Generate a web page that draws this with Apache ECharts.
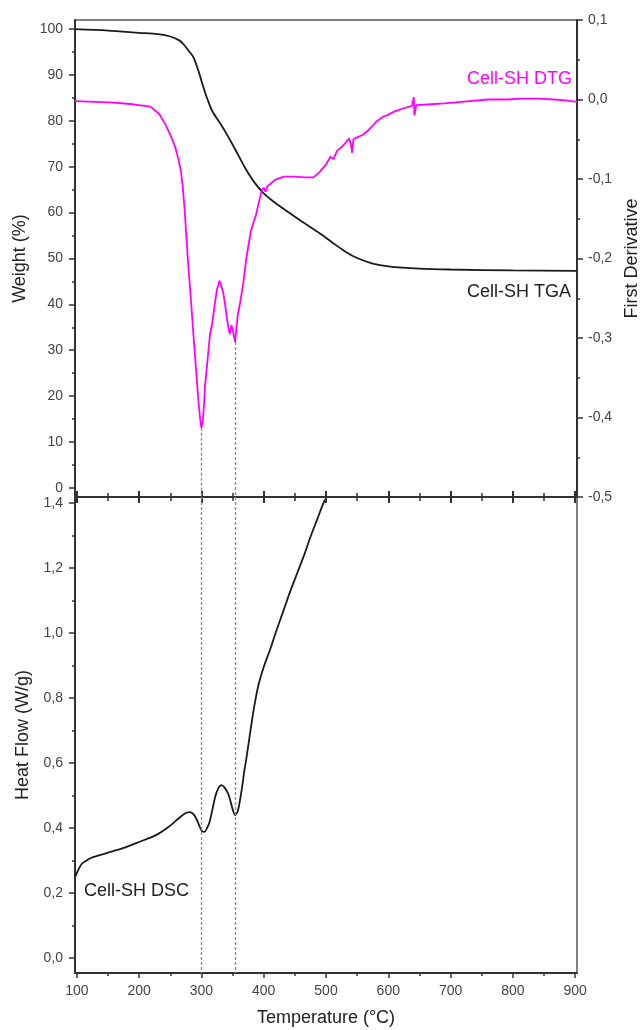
<!DOCTYPE html>
<html>
<head>
<meta charset="utf-8">
<script src="https://cdn.jsdelivr.net/npm/echarts@6/dist/echarts.min.js"></script>
<style>
  html, body { margin: 0; padding: 0; background: #fff; }
  #chart { width: 644px; height: 1030px; }
</style>
</head>
<body>
<div id="chart"></div>
<script>
// tick positions
const tempTicks = [100, 200, 300, 400, 500, 600, 700, 800, 900];
const tempMinor = [150, 250, 350, 450, 550, 650, 750, 850];
const weightTicks = [0, 10, 20, 30, 40, 50, 60, 70, 80, 90, 100];
const weightMinor = [5, 15, 25, 35, 45, 55, 65, 75, 85, 95];
const heatTicks = [0, 0.2, 0.4, 0.6, 0.8, 1.0, 1.2, 1.4];
const heatMinor = [0.1, 0.3, 0.5, 0.7, 0.9, 1.1, 1.3];

// TGA (weight %)
const tgaT = [97, 150, 200, 230, 250, 265, 272, 280, 287, 295, 303, 310, 318, 330, 342, 355, 370, 385, 400, 415, 430, 460, 490, 510, 530, 550, 575, 600, 650, 700, 800, 903];
const tgaW = [100, 99.7, 99.2, 98.9, 98.4, 97.5, 96.6, 95.2, 93.9, 91, 87.4, 84.6, 82, 79.5, 76.8, 73.6, 69.8, 66.6, 64.2, 62.5, 61, 58.2, 55.5, 53.5, 51.6, 50.1, 48.9, 48.3, 47.8, 47.6, 47.4, 47.3];

// DTG (first derivative)
const dtgT = [97, 130, 160, 190, 218, 232, 242, 252, 258, 263, 267, 270, 273, 276, 279, 283, 287, 291, 295, 298, 300, 302, 304, 306, 310, 314, 317, 319, 322, 325, 329, 332, 335, 338, 341, 344, 346, 348, 350, 352, 354, 356, 358, 362, 367, 372, 379, 383, 387, 392, 397, 400, 403, 406, 411, 418, 432, 450, 465, 480, 490, 500, 507, 512, 518, 525, 532, 537, 540, 542, 544, 552, 560, 566, 575, 582, 588, 593, 598, 610, 625, 638, 641, 642, 645, 668, 690, 705, 730, 760, 790, 813, 840, 866, 885, 903];
const dtgV = [-0.002, -0.003, -0.004, -0.006, -0.009, -0.018, -0.031, -0.048, -0.06, -0.075, -0.09, -0.11, -0.138, -0.175, -0.21, -0.25, -0.294, -0.336, -0.378, -0.402, -0.413, -0.406, -0.386, -0.358, -0.326, -0.294, -0.283, -0.272, -0.254, -0.239, -0.228, -0.235, -0.243, -0.258, -0.276, -0.29, -0.295, -0.284, -0.288, -0.297, -0.305, -0.289, -0.273, -0.256, -0.232, -0.2, -0.167, -0.156, -0.147, -0.13, -0.114, -0.111, -0.116, -0.109, -0.106, -0.101, -0.097, -0.097, -0.098, -0.098, -0.091, -0.082, -0.072, -0.075, -0.064, -0.06, -0.054, -0.049, -0.056, -0.067, -0.05, -0.047, -0.044, -0.04, -0.033, -0.027, -0.024, -0.021, -0.02, -0.015, -0.011, -0.008, 0.003, -0.02, -0.007, -0.006, -0.005, -0.004, -0.002, 0.0, 0.0, 0.001, 0.001, 0.0, -0.001, -0.003];

// DSC (heat flow W/g)
const dscT = [97, 102, 108, 118, 127, 148, 174, 200, 227, 247, 266, 275, 281, 287, 292, 297, 301, 305, 309, 313, 318, 322, 327, 332, 337, 343, 347, 350, 354, 358, 362, 366, 369, 372, 378, 384, 391, 400, 411, 420, 432, 443, 454, 465, 475, 486, 496, 499];
const dscH = [0.25, 0.27, 0.29, 0.303, 0.311, 0.323, 0.338, 0.357, 0.378, 0.403, 0.434, 0.446, 0.449, 0.443, 0.428, 0.405, 0.39, 0.388, 0.4, 0.418, 0.46, 0.495, 0.522, 0.532, 0.525, 0.505, 0.48, 0.458, 0.44, 0.45, 0.486, 0.535, 0.578, 0.612, 0.69, 0.765, 0.835, 0.895, 0.953, 1.005, 1.07, 1.13, 1.185, 1.24, 1.295, 1.35, 1.4, 1.41];

// DTG minima marked by dashed lines
const peakTemps = [300, 354];

const zip = (a, b) => a.map((v, i) => [v, b[i]]);
const comma = v => (Math.abs(v) < 1e-9 ? 0 : v).toFixed(1).replace('.', ',');

const AX = '#333';
const FONT = 'Liberation Sans';
const labelStyle = { color: '#444', fontSize: 14, fontFamily: FONT };
const nameStyle = { color: '#222', fontSize: 18, fontFamily: FONT };
const hMin = -0.046, hMax = 1.418;
const solid = { show: true, onZero: false, lineStyle: { color: AX, width: 2 } };

function tickOnly(extra) {
  return Object.assign({
    type: 'value', min: 97, max: 903,
    axisLine: { show: false, onZero: false },
    axisLabel: { show: false },
    splitLine: { show: false }
  }, extra);
}

const chart = echarts.init(document.getElementById('chart'));

const option = {
  animation: false,
  backgroundColor: '#fff',
  grid: [
    { left: 75, right: 67, top: 20, height: 477, outerBoundsMode: 'none', show: true, borderColor: '#555', borderWidth: 1.5 },
    { left: 75, right: 67, top: 497, height: 476, outerBoundsMode: 'none', show: true, borderColor: '#555', borderWidth: 1.5 }
  ],
  xAxis: [
    // top panel, bottom edge: ticks pointing up
    tickOnly({ gridIndex: 0, position: 'bottom', axisLine: solid,
      axisTick: { inside: true, length: 6, customValues: tempTicks, lineStyle: { color: AX, width: 2 } } }),
    tickOnly({ gridIndex: 0, position: 'bottom',
      axisTick: { inside: true, length: 4, customValues: tempMinor, lineStyle: { color: AX, width: 1.5 } } }),
    // bottom panel, top edge: ticks pointing down
    tickOnly({ gridIndex: 1, position: 'top', axisLine: solid,
      axisTick: { inside: true, length: 6, customValues: tempTicks, lineStyle: { color: AX, width: 2 } } }),
    tickOnly({ gridIndex: 1, position: 'top',
      axisTick: { inside: true, length: 4, customValues: tempMinor, lineStyle: { color: AX, width: 1.5 } } }),
    // bottom panel, bottom edge with labels
    {
      gridIndex: 1, type: 'value', position: 'bottom', min: 97, max: 903,
      axisLine: solid,
      axisTick: { length: 5, customValues: tempTicks, lineStyle: { color: AX, width: 1.5 } },
      axisLabel: Object.assign({ customValues: tempTicks, margin: 11 }, labelStyle),
      splitLine: { show: false },
      name: 'Temperature (°C)', nameLocation: 'middle', nameGap: 36, nameTextStyle: nameStyle
    },
    tickOnly({ gridIndex: 1, position: 'bottom',
      axisTick: { length: 3, customValues: tempMinor, lineStyle: { color: AX, width: 1.5 } } })
  ],
  yAxis: [
    {
      gridIndex: 0, type: 'value', position: 'left', min: -2, max: 102,
      axisLine: solid,
      axisTick: { length: 6, customValues: weightTicks, lineStyle: { color: AX, width: 1.5 } },
      axisLabel: Object.assign({ customValues: weightTicks, margin: 12 }, labelStyle),
      splitLine: { show: false },
      name: 'Weight (%)', nameLocation: 'middle', nameGap: 35, nameRotate: 90, nameTextStyle: nameStyle
    },
    {
      gridIndex: 0, type: 'value', position: 'left', min: -2, max: 102,
      axisLine: { show: false, onZero: false }, axisLabel: { show: false }, splitLine: { show: false },
      axisTick: { length: 3, customValues: weightMinor, lineStyle: { color: AX, width: 1.5 } }
    },
    {
      gridIndex: 0, type: 'value', position: 'right', min: -0.5, max: 0.1, interval: 0.1,
      axisLine: solid,
      axisTick: { length: 6, lineStyle: { color: AX, width: 1.5 } },
      minorTick: { show: true, splitNumber: 2, length: 3, lineStyle: { color: AX, width: 1.5 } },
      axisLabel: Object.assign({ margin: 11, formatter: comma }, labelStyle),
      splitLine: { show: false },
      name: 'First Derivative', nameLocation: 'middle', nameGap: 46, nameRotate: 90, nameTextStyle: nameStyle
    },
    {
      gridIndex: 1, type: 'value', position: 'left', min: hMin, max: hMax,
      axisLine: solid,
      axisTick: { length: 6, customValues: heatTicks, lineStyle: { color: AX, width: 1.5 } },
      axisLabel: Object.assign({ customValues: heatTicks, margin: 12, formatter: comma }, labelStyle),
      splitLine: { show: false },
      name: 'Heat Flow (W/g)', nameLocation: 'middle', nameGap: 43, nameRotate: 90, nameTextStyle: nameStyle
    },
    {
      gridIndex: 1, type: 'value', position: 'left', min: hMin, max: hMax,
      axisLine: { show: false, onZero: false }, axisLabel: { show: false }, splitLine: { show: false },
      axisTick: { length: 3, customValues: heatMinor, lineStyle: { color: AX, width: 1.5 } }
    }
  ],
  series: [
    {
      name: 'Cell-SH TGA', type: 'line', xAxisIndex: 0, yAxisIndex: 0,
      data: zip(tgaT, tgaW), showSymbol: false, smooth: 0.3,
      lineStyle: { color: '#1a1a1a', width: 1.8 }
    },
    {
      name: 'Cell-SH DTG', type: 'line', xAxisIndex: 0, yAxisIndex: 2,
      data: zip(dtgT, dtgV), showSymbol: false,
      lineStyle: { color: '#ff00ff', width: 1.8 },
      markLine: {
        silent: true, symbol: 'none', label: { show: false },
        lineStyle: { color: '#888', type: [3, 2], width: 1.3 },
        data: peakTemps.map(t => [{ coord: [t, dtgV[dtgT.indexOf(t)]] }, { coord: [t, -0.5] }])
      }
    },
    {
      name: 'Cell-SH DSC', type: 'line', xAxisIndex: 4, yAxisIndex: 3,
      data: zip(dscT, dscH), showSymbol: false, smooth: 0.3,
      lineStyle: { color: '#1a1a1a', width: 1.8 },
      markLine: {
        silent: true, symbol: 'none', label: { show: false },
        lineStyle: { color: '#888', type: [3, 2], width: 1.3 },
        data: peakTemps.map(t => [{ coord: [t, hMax] }, { coord: [t, hMin] }])
      }
    }
  ],
  graphic: [
    { type: 'text', right: 72, top: 70, style: { text: 'Cell-SH DTG', fill: '#ff00ff', font: '18px "Liberation Sans"' } },
    { type: 'text', right: 73, top: 283, style: { text: 'Cell-SH TGA', fill: '#222', font: '18px "Liberation Sans"' } },
    { type: 'text', left: 84, top: 882, style: { text: 'Cell-SH DSC', fill: '#222', font: '18px "Liberation Sans"' } }
  ]
};

chart.setOption(option);
</script>
</body>
</html>
